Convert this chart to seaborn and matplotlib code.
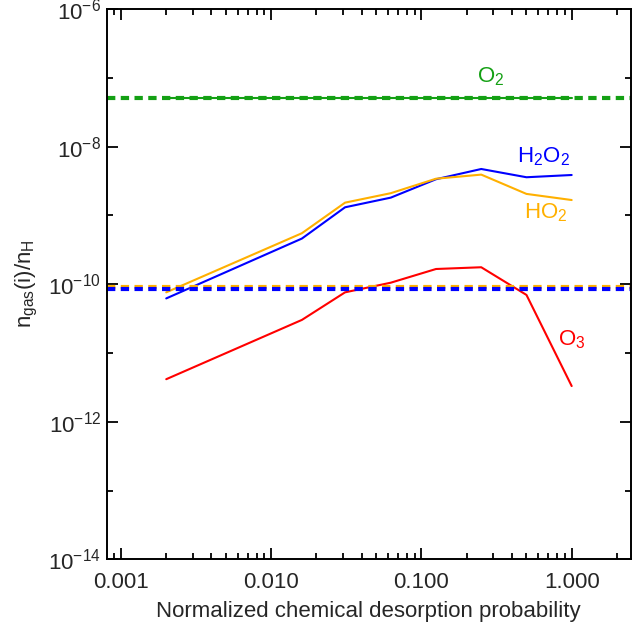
import numpy as np
import pandas as pd
import matplotlib
matplotlib.use("Agg")
import matplotlib.pyplot as plt
import matplotlib.ticker as mticker
import seaborn as sns

# Normalized chemical desorption probability
prob = [0.002, 0.016, 0.031, 0.0625, 0.125, 0.25, 0.5, 1.0]

# Gas-phase abundances relative to n_H
h2o2 = [6.2e-11, 4.6e-10, 1.31e-9, 1.81e-9, 3.35e-9, 4.72e-9, 3.58e-9, 3.86e-9]
ho2 = [7.6e-11, 5.5e-10, 1.53e-9, 2.10e-9, 3.41e-9, 3.91e-9, 2.05e-9, 1.67e-9]
o3 = [4.15e-12, 3.02e-11, 7.6e-11, 1.05e-10, 1.66e-10, 1.76e-10, 6.97e-11, 3.3e-12]
o2 = [5.0e-8, 5.0e-8, 5.0e-8, 5.0e-8, 5.0e-8, 5.0e-8, 5.0e-8, 5.0e-8]

# Observed reference levels (dashed)
ref_o2 = 5.0e-8
ref_ho2 = 9.2e-11
ref_h2o2 = 8.4e-11

species = ["O2", "H2O2", "HO2", "O3"]
labels = [r"O$_2$", r"H$_2$O$_2$", r"HO$_2$", r"O$_3$"]
colors = {"O2": "#14A014", "H2O2": "#0000FF", "HO2": "#FFB000", "O3": "#FF0000"}

sns.set_style("ticks")
plt.rcParams["font.family"] = ["Liberation Sans", "DejaVu Sans"]
plt.rcParams["mathtext.fontset"] = "custom"
plt.rcParams["mathtext.rm"] = "Liberation Sans"
plt.rcParams["mathtext.it"] = "Liberation Sans:italic"
plt.rcParams["mathtext.default"] = "regular"

df = pd.DataFrame({
    "prob": prob * 4,
    "abund": o2 + h2o2 + ho2 + o3,
    "species": sum([[s] * len(prob) for s in species], []),
})

fig = plt.figure(figsize=(6.44, 6.24), dpi=100)
ax = fig.add_axes([0.1657, 0.1037, 0.8136, 0.8819])

sns.lineplot(data=df, x="prob", y="abund", hue="species", palette=colors,
             hue_order=species, linewidth=1.5, legend=False, ax=ax,
             estimator=None, sort=False)

ax.set_xscale("log")
ax.set_yscale("log")
ax.set_xlim(8.03e-4, 2.47)
ax.set_ylim(1e-14, 1e-6)

dash = (0, (2.0, 1.3))
ax.axhline(ref_o2, color=colors["O2"], lw=3.0, ls=dash)
ax.axhline(ref_ho2, color=colors["HO2"], lw=3.0, ls=dash)
ax.axhline(ref_h2o2, color=colors["H2O2"], lw=3.0, ls=dash)

# Species labels
label_pos = {"O2": (0.29, 1.03e-7), "H2O2": (0.645, 7.1e-9),
             "HO2": (0.673, 1.08e-9), "O3": (1.0, 1.55e-11)}
for s, lab in zip(species, labels):
    x, y = label_pos[s]
    ax.text(x, y, lab, color=colors[s], fontsize=16, ha="center", va="center")

# Axis ticks
ax.xaxis.set_major_locator(mticker.FixedLocator([0.001, 0.01, 0.1, 1.0]))
ax.xaxis.set_major_formatter(mticker.FixedFormatter(["0.001", "0.010", "0.100", "1.000"]))
ax.xaxis.set_minor_locator(mticker.LogLocator(base=10, subs=np.arange(2, 10), numticks=20))
ax.xaxis.set_minor_formatter(mticker.NullFormatter())

ax.yaxis.set_major_locator(mticker.FixedLocator([1e-14, 1e-12, 1e-10, 1e-8, 1e-6]))
ax.yaxis.set_major_formatter(mticker.LogFormatterSciNotation())
ax.yaxis.set_minor_locator(mticker.FixedLocator([1e-13, 1e-11, 1e-9, 1e-7]))
ax.yaxis.set_minor_formatter(mticker.NullFormatter())

ax.tick_params(which="both", direction="in", top=True, right=True, width=1.3, color="black")
ax.tick_params(which="major", length=8)
ax.tick_params(which="minor", length=4)
ax.tick_params(axis="x", which="major", labelsize=16, pad=9)
ax.tick_params(axis="y", which="major", labelsize=16, pad=4)

for sp in ax.spines.values():
    sp.set_linewidth(1.4)
    sp.set_color("black")

ax.set_xlabel("Normalized chemical desorption probability", fontsize=16, labelpad=6)
ax.set_ylabel(r"n$_{gas}$(i)/n$_H$", fontsize=16, labelpad=6)

fig.savefig("out.png", dpi=100)
